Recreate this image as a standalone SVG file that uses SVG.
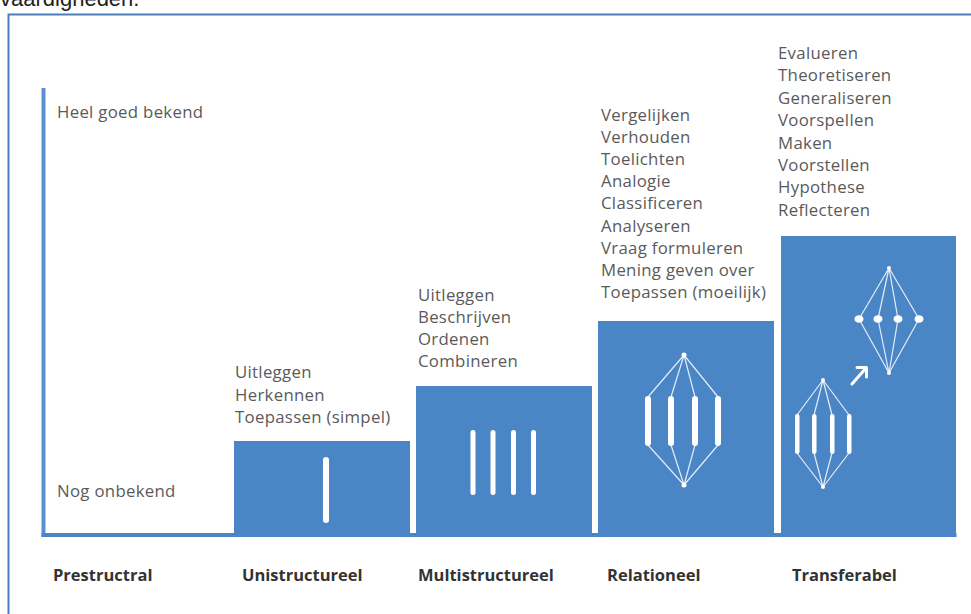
<svg xmlns="http://www.w3.org/2000/svg" width="971" height="614" viewBox="0 0 971 614">
<style>
.list{font-family:"Open Sans","Liberation Sans",sans-serif;font-size:16.8px;letter-spacing:0.3px;fill:#5a5a5a}
.lbl{font-family:"Open Sans","Liberation Sans",sans-serif;font-size:16.5px;font-weight:bold;fill:#333333}
.bar{fill:#4a86c6}
.pill{fill:#ffffff}
.net{stroke:#ffffff;stroke-width:1.2;fill:none;opacity:0.85}
</style>
<rect x="0" y="0" width="971" height="614" fill="#ffffff"/>
<text x="0" y="6" font-family="Liberation Sans, sans-serif" font-size="22" fill="#222222">vaardigheden.</text>
<path d="M8.5 614 V14.5 H971" fill="none" stroke="#4a7ebb" stroke-width="2"/>
<g id="axis">
<rect x="41.5" y="88" width="4" height="449" fill="#5a8fd0"/>
<rect x="41.5" y="533" width="915" height="4" fill="#4a86c6"/>
<text class="list" x="57" y="118">Heel goed bekend</text>
<text class="list" x="57" y="497">Nog onbekend</text>
</g>
<g id="prestructral">
<text class="lbl" x="53" y="581">Prestructral</text>
</g>
<g id="unistructureel">
<rect class="bar" x="234" y="441" width="176" height="94"/>
<rect class="pill" x="323" y="457" width="6" height="66" rx="3"/>
<text class="list" x="235"><tspan x="235" y="378">Uitleggen</tspan><tspan x="235" y="400.5">Herkennen</tspan><tspan x="235" y="423">Toepassen (simpel)</tspan></text>
<text class="lbl" x="242" y="581">Unistructureel</text>
</g>
<g id="multistructureel">
<rect class="bar" x="416" y="386" width="176" height="149"/>
<rect class="pill" x="470.5" y="430" width="5" height="65" rx="2.5"/>
<rect class="pill" x="490.5" y="430" width="5" height="65" rx="2.5"/>
<rect class="pill" x="511" y="430" width="5" height="65" rx="2.5"/>
<rect class="pill" x="531" y="430" width="5" height="65" rx="2.5"/>
<text class="list"><tspan x="418" y="301">Uitleggen</tspan><tspan x="418" y="323">Beschrijven</tspan><tspan x="418" y="345">Ordenen</tspan><tspan x="418" y="367">Combineren</tspan></text>
<text class="lbl" x="418" y="581">Multistructureel</text>
</g>
<g id="relationeel">
<rect class="bar" x="598" y="321" width="176" height="214"/>
<path class="net" d="M684 355 L648 397 M684 355 L671 397 M684 355 L695 397 M684 355 L718 397 M648 445 L684 485 M671 445 L684 485 M695 445 L684 485 M718 445 L684 485"/>
<circle cx="684" cy="355" r="2.5" fill="#ffffff"/>
<circle cx="684" cy="485" r="2.5" fill="#ffffff"/>
<rect class="pill" x="645" y="396" width="6" height="50" rx="3"/>
<rect class="pill" x="668" y="396" width="6" height="50" rx="3"/>
<rect class="pill" x="692" y="396" width="6" height="50" rx="3"/>
<rect class="pill" x="715" y="396" width="6" height="50" rx="3"/>
<text class="list"><tspan x="601" y="121">Vergelijken</tspan><tspan x="601" y="143.1">Verhouden</tspan><tspan x="601" y="165.2">Toelichten</tspan><tspan x="601" y="187.3">Analogie</tspan><tspan x="601" y="209.4">Classificeren</tspan><tspan x="601" y="231.5">Analyseren</tspan><tspan x="601" y="253.6">Vraag formuleren</tspan><tspan x="601" y="275.7">Mening geven over</tspan><tspan x="601" y="297.8">Toepassen (moeilijk)</tspan></text>
<text class="lbl" x="607" y="581">Relationeel</text>
</g>
<g id="transferabel">
<rect class="bar" x="781" y="236" width="175" height="299"/>
<path class="net" d="M823 380 L797 415 M823 380 L814 415 M823 380 L832 415 M823 380 L849 415 M797 453 L823 487 M814 453 L823 487 M832 453 L823 487 M849 453 L823 487"/>
<circle cx="823" cy="380" r="2" fill="#ffffff"/>
<circle cx="823" cy="487" r="2" fill="#ffffff"/>
<rect class="pill" x="795" y="414" width="4.5" height="40" rx="2.2"/>
<rect class="pill" x="812" y="414" width="4.5" height="40" rx="2.2"/>
<rect class="pill" x="830" y="414" width="4.5" height="40" rx="2.2"/>
<rect class="pill" x="847" y="414" width="4.5" height="40" rx="2.2"/>
<path class="net" d="M889 268 L859 319 M889 268 L878 319 M889 268 L898 319 M889 268 L919 319 M859 319 L889 373 M878 319 L889 373 M898 319 L889 373 M919 319 L889 373"/>
<circle cx="889" cy="268" r="2" fill="#ffffff"/>
<circle cx="889" cy="373" r="2" fill="#ffffff"/>
<ellipse cx="859" cy="319" rx="4.5" ry="3.8" fill="#ffffff"/>
<ellipse cx="878" cy="319" rx="4.5" ry="3.8" fill="#ffffff"/>
<ellipse cx="898" cy="319" rx="4.5" ry="3.8" fill="#ffffff"/>
<ellipse cx="919" cy="319" rx="4.5" ry="3.8" fill="#ffffff"/>
<text class="list"><tspan x="778" y="59">Evalueren</tspan><tspan x="778" y="81.4">Theoretiseren</tspan><tspan x="778" y="103.8">Generaliseren</tspan><tspan x="778" y="126.2">Voorspellen</tspan><tspan x="778" y="148.6">Maken</tspan><tspan x="778" y="171">Voorstellen</tspan><tspan x="778" y="193.4">Hypothese</tspan><tspan x="778" y="215.8">Reflecteren</tspan></text>
<text class="lbl" x="792" y="581">Transferabel</text>
</g>
<g id="connectors">
<path d="M852 384 L866 368 M857 367.5 L866.5 367.5 L866.5 377" fill="none" stroke="#ffffff" stroke-width="3" stroke-linecap="round" stroke-linejoin="round"/>
</g>
</svg>
